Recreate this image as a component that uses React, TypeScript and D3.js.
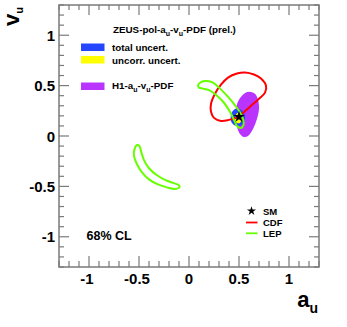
import { useEffect, useRef } from 'react';
import * as d3 from 'd3';

// contours in (a_u, v_u)
const lepUpper: [number, number][] = [
  [0.09, 0.50], [0.12, 0.535], [0.18, 0.545], [0.24, 0.53], [0.30, 0.48], [0.37, 0.41],
  [0.44, 0.33], [0.50, 0.25], [0.54, 0.17], [0.545, 0.11], [0.52, 0.08], [0.48, 0.10],
  [0.45, 0.16], [0.41, 0.24], [0.35, 0.33], [0.28, 0.40], [0.21, 0.45], [0.14, 0.47], [0.10, 0.48],
];
const lepLower: [number, number][] = [
  [-0.52, -0.09], [-0.545, -0.13], [-0.55, -0.20], [-0.52, -0.28], [-0.47, -0.36], [-0.40, -0.43],
  [-0.31, -0.48], [-0.22, -0.51], [-0.14, -0.525], [-0.095, -0.51], [-0.10, -0.49], [-0.16, -0.465],
  [-0.24, -0.435], [-0.32, -0.39], [-0.40, -0.32], [-0.45, -0.24], [-0.48, -0.15], [-0.495, -0.10],
];
const cdf: [number, number][] = [
  [0.48, 0.62], [0.56, 0.63], [0.65, 0.61], [0.72, 0.57], [0.77, 0.50], [0.76, 0.43], [0.70, 0.37],
  [0.61, 0.29], [0.53, 0.22], [0.47, 0.18], [0.40, 0.16], [0.32, 0.15], [0.25, 0.18], [0.22, 0.24],
  [0.22, 0.32], [0.26, 0.42], [0.32, 0.51], [0.39, 0.58],
];
const h1: [number, number][] = [
  [0.60, 0.44], [0.66, 0.42], [0.69, 0.36], [0.70, 0.27], [0.68, 0.17], [0.64, 0.07], [0.59, 0.00],
  [0.55, -0.01], [0.51, 0.02], [0.48, 0.09], [0.46, 0.18], [0.47, 0.28], [0.50, 0.36], [0.55, 0.42],
];
const zeusTotal: [number, number][] = [
  [0.47, 0.27], [0.52, 0.26], [0.555, 0.22], [0.56, 0.17], [0.54, 0.12], [0.50, 0.10],
  [0.45, 0.11], [0.42, 0.15], [0.42, 0.21], [0.44, 0.25],
];
const zeusUncorr: [number, number][] = [
  [0.49, 0.23], [0.52, 0.21], [0.53, 0.17], [0.51, 0.13], [0.48, 0.13], [0.46, 0.16], [0.47, 0.21],
];
const smPoint: [number, number] = [0.5, 0.19];

const xTickLabels = [-1, -0.5, 0, 0.5, 1];
const yTickLabels = [-1, -0.5, 0, 0.5, 1];

const BLUE = '#2446ff';
const YELLOW = '#ffff00';
const PURPLE = '#b935ff';
const RED = '#ff0000';
const GREEN = '#66ff00';
const AXIS = '#7a7a7a';
const FONT = '"Liberation Sans", Arial, Helvetica, sans-serif';

const App = () => {
  const svgRef = useRef<SVGSVGElement>(null);

  useEffect(() => {
    const width = 347;
    const height = 327;
    const left = 59, right = 319, top = 5, bottom = 267;

    const svg = d3.select(svgRef.current);
    svg.selectAll('*').remove();
    svg.attr('width', width).attr('height', height);

    const x = d3.scaleLinear().domain([-1.3, 1.3]).range([left, right]);
    const y = d3.scaleLinear().domain([-1.3, 1.3]).range([bottom, top]);

    const line = d3.line<[number, number]>()
      .x(d => x(d[0]))
      .y(d => y(d[1]))
      .curve(d3.curveCatmullRomClosed);

    // filled areas
    svg.append('path').attr('d', line(h1)).attr('fill', PURPLE);
    svg.append('path').attr('d', line(zeusTotal)).attr('fill', BLUE);
    svg.append('path').attr('d', line(zeusUncorr)).attr('fill', YELLOW);

    // contour lines
    svg.append('path').attr('d', line(cdf)).attr('fill', 'none').attr('stroke', RED).attr('stroke-width', 2);
    [lepUpper, lepLower].forEach(c => {
      svg.append('path').attr('d', line(c)).attr('fill', 'none').attr('stroke', GREEN).attr('stroke-width', 2);
    });

    // SM star
    const star = d3.symbol().type(d3.symbolStar).size(40);
    svg.append('path')
      .attr('d', star())
      .attr('transform', `translate(${x(smPoint[0])},${y(smPoint[1])})`)
      .attr('fill', '#000');

    // frame + ticks
    svg.append('rect')
      .attr('x', left).attr('y', top)
      .attr('width', right - left).attr('height', bottom - top)
      .attr('fill', 'none').attr('stroke', AXIS).attr('stroke-width', 1.5);

    const ticks = x.ticks(26);
    const isMajor = (t: number) => Math.abs(t * 2 - Math.round(t * 2)) < 1e-6;
    const g = svg.append('g').attr('stroke', AXIS).attr('stroke-width', 1.2);
    ticks.forEach(t => {
      const maj = isMajor(t);
      const lx = maj ? 11 : 6;
      const ly = maj ? 10 : 5;
      g.append('line').attr('x1', x(t)).attr('x2', x(t)).attr('y1', bottom).attr('y2', bottom - lx);
      g.append('line').attr('x1', x(t)).attr('x2', x(t)).attr('y1', top).attr('y2', top + ly);
    });
    y.ticks(26).forEach(t => {
      const maj = isMajor(t);
      const l = maj ? 10 : 5;
      g.append('line').attr('y1', y(t)).attr('y2', y(t)).attr('x1', left).attr('x2', left + l);
      g.append('line').attr('y1', y(t)).attr('y2', y(t)).attr('x1', right).attr('x2', right - l);
    });

    // tick labels
    const fmt = (v: number) => (v === 0 ? '0' : String(v));
    svg.append('g').selectAll('text')
      .data(xTickLabels)
      .join('text')
      .attr('x', d => x(d) - (d < 0 ? 2 : 0))
      .attr('y', 284)
      .attr('text-anchor', 'middle')
      .style('font', `bold 15px ${FONT}`)
      .text(fmt);
    svg.append('g').selectAll('text')
      .data(yTickLabels)
      .join('text')
      .attr('x', 55)
      .attr('y', d => y(d) + 5.5)
      .attr('text-anchor', 'end')
      .style('font', `bold 15px ${FONT}`)
      .text(fmt);

    // axis titles
    const xt = svg.append('text')
      .attr('x', 318).attr('y', 307)
      .attr('text-anchor', 'end')
      .style('font', `bold 22px ${FONT}`);
    xt.append('tspan').text('a');
    xt.append('tspan').attr('dy', 6).style('font-size', '14px').text('u');

    const yt = svg.append('text')
      .attr('transform', 'translate(18.5,7) rotate(-90)')
      .attr('text-anchor', 'end')
      .style('font', `bold 22px ${FONT}`);
    yt.append('tspan').text('v');
    yt.append('tspan').attr('dy', 4).style('font-size', '11px').text('u');

    // legend (top)
    const sub = (sel: d3.Selection<SVGTextElement, unknown, null, undefined>, parts: [string, boolean][]) => {
      parts.forEach(([s, isSub], i) => {
        const ts = sel.append('tspan').text(s);
        if (isSub) ts.attr('dy', 2.5).style('font-size', '7px');
        else if (i > 0 && parts[i - 1][1]) ts.attr('dy', -2.5);
      });
    };
    const lf = `bold 9.8px ${FONT}`;
    const title = svg.append('text').attr('x', 113).attr('y', 33).style('font', lf);
    sub(title, [['ZEUS-pol-a', false], ['u', true], ['-v', false], ['u', true], ['-PDF (prel.)', false]]);

    const swatches: [string, number][] = [[BLUE, 43.5], [YELLOW, 56], [PURPLE, 82.5]];
    swatches.forEach(([c, yy]) => {
      svg.append('rect').attr('x', 81).attr('y', yy).attr('width', 23.5).attr('height', 7.5).attr('fill', c);
    });
    svg.append('text').attr('x', 112).attr('y', 51).style('font', lf).text('total uncert.');
    svg.append('text').attr('x', 112).attr('y', 63.5).style('font', lf).text('uncorr. uncert.');
    const h1t = svg.append('text').attr('x', 112).attr('y', 89).style('font', lf);
    sub(h1t, [['H1-a', false], ['u', true], ['-v', false], ['u', true], ['-PDF', false]]);

    // legend (bottom)
    svg.append('path')
      .attr('d', d3.symbol().type(d3.symbolStar).size(26)())
      .attr('transform', 'translate(251.5,211)')
      .attr('fill', '#000');
    svg.append('text').attr('x', 263).attr('y', 215).style('font', `bold 9.5px ${FONT}`).text('SM');
    svg.append('line').attr('x1', 246).attr('x2', 257.5).attr('y1', 222.5).attr('y2', 222.5).attr('stroke', RED).attr('stroke-width', 1.8);
    svg.append('text').attr('x', 263).attr('y', 226).style('font', `bold 9.5px ${FONT}`).text('CDF');
    svg.append('line').attr('x1', 246).attr('x2', 257.5).attr('y1', 233.3).attr('y2', 233.3).attr('stroke', GREEN).attr('stroke-width', 1.8);
    svg.append('text').attr('x', 263).attr('y', 237).style('font', `bold 9.5px ${FONT}`).text('LEP');

    svg.append('text').attr('x', 86.5).attr('y', 240).style('font', `bold 12.5px ${FONT}`).text('68% CL');
  }, []);

  return (
    <svg ref={svgRef} style={{ position: 'absolute', left: 0, top: 0, background: '#fff' }} />
  );
};

export default App;
